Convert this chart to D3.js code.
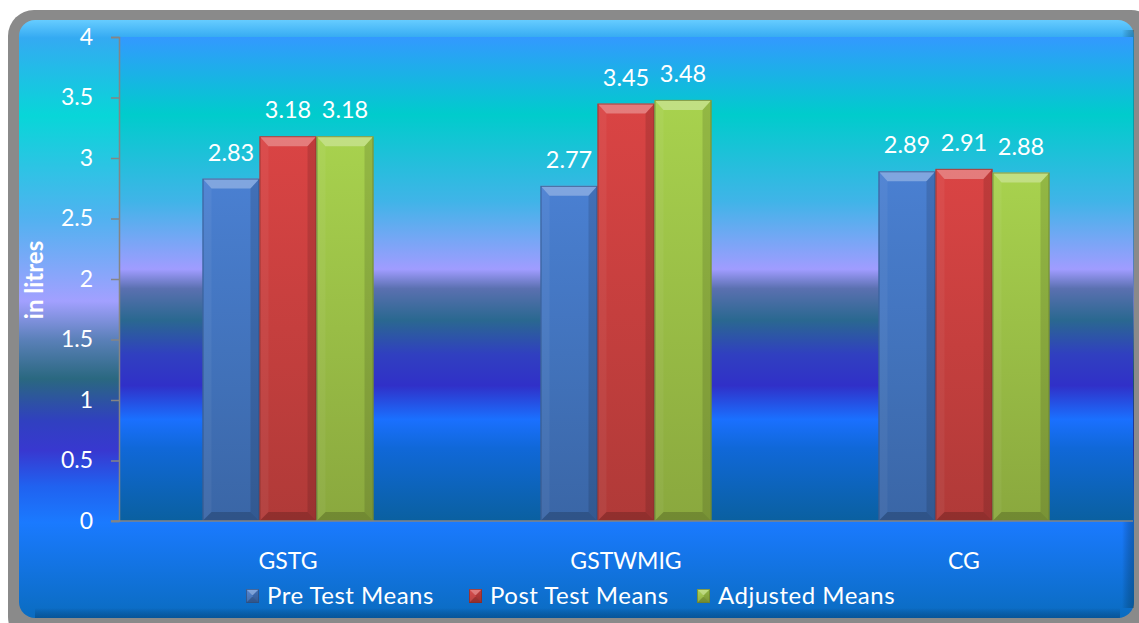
<!DOCTYPE html>
<html>
<head>
<meta charset="utf-8">
<script src="https://cdn.jsdelivr.net/npm/d3@7/dist/d3.min.js"></script>
<style>
  html, body { margin: 0; padding: 0; background: #ffffff; }
  svg { display: block; }
  text { font-family: Lato, "Open Sans", sans-serif; fill: #ffffff; }
</style>
</head>
<body>
<svg id="chart" width="1139" height="623"></svg>
<script>
// Chart data
const categories = ["GSTG", "GSTWMIG", "CG"];
const seriesNames = ["Pre Test Means", "Post Test Means", "Adjusted Means"];
const preTest = [2.83, 2.77, 2.89];
const postTest = [3.18, 3.45, 2.91];
const adjusted = [3.18, 3.48, 2.88];
const yTicks = [0, 0.5, 1, 1.5, 2, 2.5, 3, 3.5, 4];
const yTitle = "in litres";

const seriesValues = [preTest, postTest, adjusted];
const seriesColors = [
  { base: "#4a80d2", dark: "#3a66a6" },
  { base: "#da4444", dark: "#b03a38" },
  { base: "#a8d24e", dark: "#8aa83e" }
];

const W = 1139, H = 623;
const plot = { left: 119, right: 1133, top: 37, bottom: 521 };

const svg = d3.select("#chart");
const defs = svg.append("defs");

function linear(id, stops, x2 = 0, y2 = 1) {
  const g = defs.append("linearGradient").attr("id", id)
    .attr("x1", 0).attr("y1", 0).attr("x2", x2).attr("y2", y2);
  stops.forEach(([o, c, op]) => g.append("stop").attr("offset", o)
    .attr("stop-color", c).attr("stop-opacity", op == null ? 1 : op));
}

// Panel background bands
linear("panelGrad", [
  [0, "#66ccff"], [0.03, "#34aaf2"], [0.16, "#08d6d8"], [0.33, "#50b2f0"],
  [0.47, "#a2a0ff"], [0.535, "#5a80b8"], [0.6, "#2a6880"], [0.67, "#3040c0"],
  [0.72, "#3838d0"], [0.78, "#2062f0"], [0.84, "#1a7aff"], [1, "#0a6cc0"]
]);
// Plot-area background bands
linear("plotGrad", [
  [0, "#3399ff"], [0.16, "#00cccc"], [0.34, "#40b4e8"], [0.48, "#a09cff"],
  [0.52, "#5a70b0"], [0.585, "#2a6890"], [0.655, "#3040c0"], [0.72, "#3030c8"],
  [0.79, "#1a70ff"], [0.85, "#1068d8"], [1, "#0a60a0"]
]);
linear("rightShade", [[0, "#000000", 0], [1, "#003040", 0.35]], 1, 0);
linear("bottomShade", [[0, "#000000", 0], [1, "#002040", 0.3]]);

seriesColors.forEach((c, i) => {
  linear("bar" + i, [[0, c.base], [1, c.dark]]);
});

// Outer frame and panel
svg.append("rect").attr("x", 8).attr("y", 10).attr("width", W + 10).attr("height", H + 10)
  .attr("rx", 26).attr("fill", "#8a8a8a");
svg.append("rect").attr("x", 19).attr("y", 20).attr("width", 1115).attr("height", 598)
  .attr("rx", 16).attr("fill", "url(#panelGrad)");
svg.append("rect").attr("x", 1122).attr("y", 30).attr("width", 12).attr("height", 578)
  .attr("fill", "url(#rightShade)");
svg.append("rect").attr("x", 35).attr("y", 608).attr("width", 1085).attr("height", 10)
  .attr("fill", "url(#bottomShade)");

// Scales
const y = d3.scaleLinear().domain([0, 4]).range([plot.bottom, plot.top]);
const x0 = d3.scaleBand().domain(categories).range([plot.left, plot.right])
  .paddingInner(0.494).paddingOuter(0.247);
const x1 = d3.scaleBand().domain(d3.range(seriesNames.length)).range([0, x0.bandwidth()]);

// Plot area
svg.append("rect").attr("x", plot.left).attr("y", plot.top)
  .attr("width", plot.right - plot.left).attr("height", plot.bottom - plot.top)
  .attr("fill", "url(#plotGrad)");

// Bevelled bar shape
function drawBevel(g, x, yTop, w, h, colorIdx, t, s) {
  const c = seriesColors[colorIdx];
  t = Math.min(t, h / 2); s = Math.min(s, w / 2);
  g.append("rect").attr("x", x).attr("y", yTop).attr("width", w).attr("height", h)
    .attr("fill", `url(#bar${colorIdx})`);
  const pts = {
    top: [[x, yTop], [x + w, yTop], [x + w - s, yTop + t], [x + s, yTop + t]],
    left: [[x, yTop], [x + s, yTop + t], [x + s, yTop + h - s], [x, yTop + h]],
    right: [[x + w, yTop], [x + w - s, yTop + t], [x + w - s, yTop + h - s], [x + w, yTop + h]],
    bottom: [[x, yTop + h], [x + s, yTop + h - s], [x + w - s, yTop + h - s], [x + w, yTop + h]]
  };
  const shade = { top: ["#ffffff", 0.3], left: ["#ffffff", 0.05], right: ["#000000", 0.12], bottom: ["#000000", 0.18] };
  Object.keys(pts).forEach(k => {
    g.append("polygon").attr("points", pts[k].map(p => p.join(",")).join(" "))
      .attr("fill", shade[k][0]).attr("fill-opacity", shade[k][1]);
  });
  g.append("rect").attr("x", x + 0.5).attr("y", yTop + 0.5).attr("width", w - 1).attr("height", h - 1)
    .attr("fill", "none").attr("stroke", d3.color(c.dark).darker(0.8)).attr("stroke-opacity", 0.7);
}

// Bars
const barsG = svg.append("g");
categories.forEach((cat, ci) => {
  seriesValues.forEach((vals, si) => {
    const v = vals[ci];
    const bx = x0(cat) + x1(si);
    drawBevel(barsG, bx, y(v), x1.bandwidth(), y(0) - y(v), si, 10, 9);
  });
});

// Value labels
const labelsG = svg.append("g");
categories.forEach((cat, ci) => {
  seriesValues.forEach((vals, si) => {
    const v = vals[ci];
    labelsG.append("text")
      .attr("x", x0(cat) + x1(si) + x1.bandwidth() / 2)
      .attr("y", y(v) - 18)
      .attr("text-anchor", "middle")
      .attr("font-size", 23.5)
      .text(v.toFixed(2));
  });
});

// Y axis
const yAxis = svg.append("g").attr("transform", `translate(${plot.left},0)`)
  .call(d3.axisLeft(y).tickValues(yTicks).tickSize(8).tickPadding(18).tickFormat(d3.format("")));
yAxis.select(".domain").attr("stroke", "#858585").attr("stroke-width", 1.5);
yAxis.selectAll(".tick line").attr("stroke", "#858585").attr("stroke-width", 1.5);
yAxis.selectAll(".tick text").attr("font-size", 23).attr("fill", "#ffffff")
  .attr("font-family", "Lato, 'Open Sans', sans-serif");

// X axis baseline and category labels
const xAxis = svg.append("g").attr("transform", `translate(0,${plot.bottom})`)
  .call(d3.axisBottom(x0).tickSize(0).tickPadding(32));
xAxis.select(".domain").attr("stroke", "#858585").attr("stroke-width", 1.5)
  .attr("d", `M${plot.left - 8},0H${plot.right}`);
xAxis.selectAll(".tick text").attr("font-size", 23).attr("fill", "#ffffff")
  .attr("font-family", "Lato, 'Open Sans', sans-serif");

// Y axis title
svg.append("text")
  .attr("transform", `translate(43,280) rotate(-90)`)
  .attr("text-anchor", "middle")
  .attr("font-size", 24)
  .attr("font-weight", "bold")
  .text(yTitle);

// Legend
const legendX = [246, 469, 697];
const legend = svg.append("g");
seriesNames.forEach((name, i) => {
  const lx = legendX[i];
  drawBevel(legend, lx, 589, 13, 14, i, 6, 6);
  legend.append("text").attr("x", lx + 21).attr("y", 604)
    .attr("font-size", 24).attr("letter-spacing", 0.5).text(name);
});
</script>
</body>
</html>
